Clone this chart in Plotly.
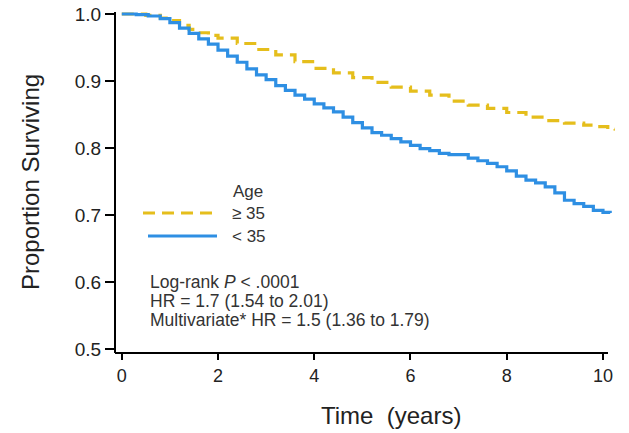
import plotly.graph_objects as go

# ---- data ----
t_young = [0, 0.3, 0.55, 0.8, 1.0, 1.2, 1.4, 1.6, 1.8, 2.0, 2.2, 2.4, 2.6, 2.8, 3.0, 3.2, 3.4,
           3.6, 3.8, 4.0, 4.2, 4.4, 4.6, 4.8, 5.0, 5.2, 5.4, 5.6, 5.8, 6.0, 6.2, 6.4, 6.6,
           6.8, 7.0, 7.2, 7.4, 7.6, 7.8, 8.0, 8.2, 8.4, 8.6, 8.8, 9.0, 9.2, 9.4, 9.6, 9.8,
           10.0, 10.15]
s_young = [1.0, 0.999, 0.997, 0.993, 0.987, 0.979, 0.971, 0.963, 0.955, 0.946, 0.937, 0.928,
           0.918, 0.909, 0.902, 0.893, 0.886, 0.879, 0.873, 0.866, 0.860, 0.854, 0.846, 0.838,
           0.830, 0.823, 0.819, 0.814, 0.809, 0.804, 0.799, 0.796, 0.792, 0.790, 0.790, 0.785,
           0.781, 0.777, 0.772, 0.766, 0.758, 0.752, 0.748, 0.742, 0.733, 0.722, 0.717, 0.713,
           0.707, 0.704, 0.703]

t_old = [0, 0.5, 0.8, 1.0, 1.2, 1.4, 1.6, 1.8, 2.0, 2.4, 2.8, 3.2, 3.6, 4.0, 4.4, 4.8, 5.2,
         5.6, 6.0, 6.4, 6.8, 7.2, 7.6, 8.0, 8.4, 8.8, 9.2, 9.6, 9.9, 10.1, 10.25]
s_old = [1.0, 0.998, 0.994, 0.990, 0.983, 0.977, 0.972, 0.968, 0.964, 0.956, 0.947, 0.939,
         0.929, 0.919, 0.912, 0.905, 0.898, 0.891, 0.885, 0.879, 0.870, 0.864, 0.859, 0.853,
         0.846, 0.841, 0.837, 0.834, 0.832, 0.828, 0.826]

series_names = ["≥ 35", "< 35"]
x_ticks = [0, 2, 4, 6, 8, 10]
y_ticks = [0.5, 0.6, 0.7, 0.8, 0.9, 1.0]
y_tick_labels = ["0.5", "0.6", "0.7", "0.8", "0.9", "1.0"]
stats_lines = ["Log-rank <i>P</i> < .0001",
               "HR = 1.7 (1.54 to 2.01)",
               "Multivariate* HR = 1.5 (1.36 to 1.79)"]

YELLOW = "#E5BE1C"
BLUE = "#2E8FE3"
FONT = "Liberation Sans, Arial, Helvetica, sans-serif"

fig = go.Figure()
fig.add_trace(go.Scatter(x=t_old, y=s_old, mode="lines", name=series_names[0],
                         line=dict(color=YELLOW, width=3.2, dash="12px,7px", shape="hv")))
fig.add_trace(go.Scatter(x=t_young, y=s_young, mode="lines", name=series_names[1],
                         line=dict(color=BLUE, width=3.2, shape="hv")))

L, R, T, B = 116, 14, 12, 80
W, H = 629, 433
pw, ph = W - L - R, H - T - B


def px(xp):
    return (xp - L) / pw


def py(yp):
    return (H - B - yp) / ph


fig.update_layout(
    template="none",
    width=W, height=H, autosize=False,
    margin=dict(l=L, r=R, t=T, b=B, pad=0, autoexpand=False),
    paper_bgcolor="white", plot_bgcolor="white",
    showlegend=False,
    font=dict(family=FONT, color="#222"),
    xaxis=dict(range=[-0.12, 10.25], tickvals=x_ticks, ticks="outside", ticklen=6,
               tickwidth=2, tickcolor="black", showline=False,
               showgrid=False, zeroline=False, automargin=False,
               tickfont=dict(size=18, color="#222")),
    yaxis=dict(range=[0.494, 1.003], tickvals=y_ticks, ticktext=y_tick_labels,
               ticks="outside", ticklen=9, tickwidth=2, tickcolor="black",
               showline=True, linecolor="black", linewidth=2, showgrid=False,
               zeroline=False, automargin=False, tickfont=dict(size=19, color="#222")),
)

ann = []
# axis titles
ann.append(dict(text="Time  (years)", xref="paper", yref="paper", x=px(391), y=py(415),
                xanchor="center", yanchor="middle", showarrow=False,
                font=dict(size=24, color="#222")))
ann.append(dict(text="Proportion Surviving", xref="paper", yref="paper", x=px(30), y=py(182),
                xanchor="center", yanchor="middle", textangle=-90, showarrow=False,
                font=dict(size=24, color="#222")))
# legend
ann.append(dict(text="Age", xref="paper", yref="paper", x=px(231), y=py(191),
                xanchor="left", yanchor="middle", showarrow=False,
                font=dict(size=17, color="#333")))
ann.append(dict(text=series_names[0], xref="paper", yref="paper", x=px(230), y=py(214),
                xanchor="left", yanchor="middle", showarrow=False,
                font=dict(size=17, color="#333")))
ann.append(dict(text=series_names[1], xref="paper", yref="paper", x=px(230), y=py(236),
                xanchor="left", yanchor="middle", showarrow=False,
                font=dict(size=17, color="#333")))
# stats
for line, yy in zip(stats_lines, [282, 301, 320]):
    ann.append(dict(text=line, xref="paper", yref="paper", x=px(148), y=py(yy),
                    xanchor="left", yanchor="middle", showarrow=False,
                    font=dict(size=17.5, color="#333")))
fig.update_layout(annotations=ann)

# x axis line (ends a little short of the plot edge, as in the reference)
fig.add_shape(type="line", xref="paper", yref="paper", x0=px(115), x1=px(608),
              y0=0, y1=0, line=dict(color="black", width=2), layer="above")

# legend line samples
fig.add_shape(type="line", xref="paper", yref="paper", x0=px(143), x1=px(218),
              y0=py(213), y1=py(213), line=dict(color=YELLOW, width=3.2, dash="12px,7px"))
fig.add_shape(type="line", xref="paper", yref="paper", x0=px(148), x1=px(217),
              y0=py(236), y1=py(236), line=dict(color=BLUE, width=3.2))

post = ("document.documentElement.style.margin='0';"
        "document.body.style.margin='0';document.body.style.padding='0';"
        "document.body.style.overflow='hidden';"
        "var d=document.getElementById('{plot_id}');"
        "d.style.position='fixed';d.style.left='0px';d.style.top='0px';")

fig.write_html("out.html", post_script=post, config={"displayModeBar": False})
